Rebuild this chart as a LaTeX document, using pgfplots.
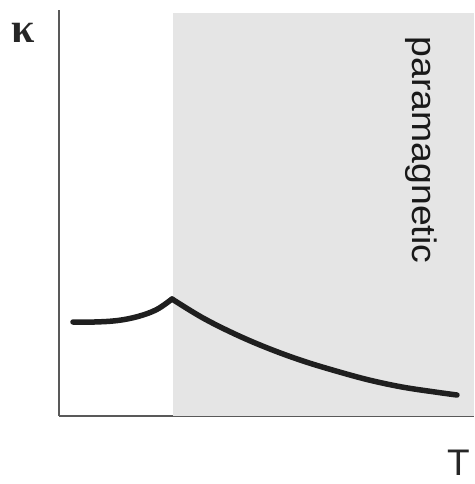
\documentclass[border=0pt]{standalone}
\usepackage{pgfplots}
\pgfplotsset{compat=1.18}
\usepackage{fontspec}
\setmainfont{Liberation Sans}
\newfontfamily\serifgreek{Liberation Serif}
\definecolor{shade}{gray}{0.9}
\definecolor{axcol}{gray}{0.35}
\definecolor{curve}{gray}{0.12}
\begin{document}
\begin{tikzpicture}
\path[use as bounding box] (0pt,0pt) rectangle (474pt,484pt);
\begin{axis}[
  at={(59pt,68pt)}, anchor=south west,
  scale only axis, width=415pt, height=406pt,
  xmin=0, xmax=10, ymin=0, ymax=10,
  axis lines=left, axis line style={-, axcol, line width=1.6pt},
  xtick=\empty, ytick=\empty,
  clip=false,
]
\addplot[fill=shade, draw=none] coordinates {(2.75,0) (10,0) (10,9.93) (2.75,9.93)} -- cycle;
\addplot[curve, line width=5.5pt, line cap=round, smooth, tension=0.6] coordinates {
 (0.337,2.315) (0.85,2.315) (1.40,2.35) (1.90,2.45) (2.35,2.62) (2.723,2.882)};
\addplot[curve, line width=5.5pt, line cap=round, smooth, tension=0.6] coordinates {
 (2.723,2.882) (3.470,2.414) (4.289,1.995) (5.084,1.650) (5.880,1.355) (6.675,1.108) (7.470,0.887) (8.265,0.714) (9.060,0.591) (9.590,0.517)};
\end{axis}
\node[anchor=center, inner sep=0pt, font=\serifgreek\bfseries\fontsize{42}{42}\selectfont, text=black!85] at (23pt,451pt) {κ};
\node[anchor=north west, inner sep=0pt, font=\fontsize{37}{37}\selectfont, text=black!85] at (447pt,34pt) {T};
\node[anchor=center, rotate=-90, inner sep=0pt, xscale=1.1, font=\fontsize{34}{34}\selectfont, text=black!90] at (421pt,334pt) {paramagnetic};
\end{tikzpicture}
\end{document}
